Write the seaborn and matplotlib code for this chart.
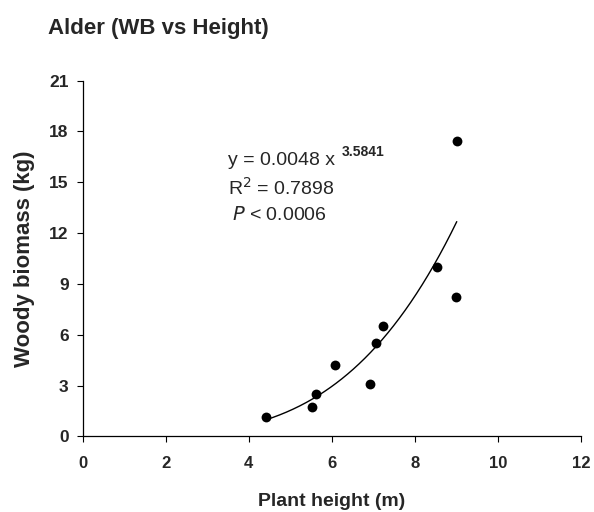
import numpy as np
import pandas as pd
import matplotlib
matplotlib.use("Agg")
import matplotlib.pyplot as plt
import seaborn as sns

# Data
height_m = [4.42, 5.52, 5.61, 6.07, 6.92, 7.06, 7.24, 8.54, 8.99, 9.01]
woody_kg = [1.14, 1.73, 2.50, 4.23, 3.09, 5.53, 6.53, 9.99, 8.22, 17.46]

# Power fit shown on the chart: y = a * x^b
fit_a = 0.0048
fit_b = 3.5841
fit_x_range = [4.42, 9.01]

x_ticks = [0, 2, 4, 6, 8, 10, 12]
y_ticks = [0, 3, 6, 9, 12, 15, 18, 21]

sns.set_theme(style="ticks")
plt.rcParams['font.family'] = ['Liberation Sans', 'DejaVu Sans']

df = pd.DataFrame({"height": height_m, "biomass": woody_kg})
fx = np.linspace(fit_x_range[0], fit_x_range[1], 200)
fit_df = pd.DataFrame({"height": fx, "biomass": fit_a * fx ** fit_b})

fig = plt.figure(figsize=(5.94, 5.12), dpi=100)
ax = fig.add_axes([0.139, 0.1475, 0.839, 0.695])

sns.lineplot(data=fit_df, x="height", y="biomass", ax=ax, color="black", linewidth=1.0)
sns.scatterplot(data=df, x="height", y="biomass", ax=ax, color="black", s=50,
                edgecolor="black", linewidth=0, zorder=3)

ax.set_xlim(0, 12)
ax.set_ylim(0, 21)
ax.set_xticks(x_ticks)
ax.set_yticks(y_ticks)
ax.set_xticklabels([str(t) for t in x_ticks], fontsize=12, fontweight="bold")
ax.set_yticklabels([str(t) for t in y_ticks], fontsize=12.5, fontweight="bold")
ax.tick_params(axis="both", direction="out", length=4, width=0.8, color="black", pad=6)
ax.tick_params(axis="x", pad=10)

for side in ["top", "right"]:
    ax.spines[side].set_visible(False)
for side in ["left", "bottom"]:
    ax.spines[side].set_color("black")
    ax.spines[side].set_linewidth(0.9)

ax.set_xlabel("Plant height (m)", fontsize=14, fontweight="bold", labelpad=16)
ax.set_ylabel("Woody biomass (kg)", fontsize=16, fontweight="bold", labelpad=10)

fig.text(0.081, 0.945, "Alder (WB vs Height)", fontsize=16, fontweight="bold",
         ha="left", va="center")

ax.text(0.292, 0.776, "y = 0.0048 x", transform=ax.transAxes, fontsize=14, ha="left", va="center")
ax.text(0.519, 0.799, "3.5841", transform=ax.transAxes, fontsize=10, fontweight="bold",
        ha="left", va="center")
ax.text(0.292, 0.699, "R$^2$ = 0.7898", transform=ax.transAxes, fontsize=14, ha="left", va="center")
ax.text(0.300, 0.623, "$\\it{P}$ < 0.0006", transform=ax.transAxes, fontsize=14, ha="left", va="center")

fig.savefig("out.png", dpi=100, facecolor="white")
